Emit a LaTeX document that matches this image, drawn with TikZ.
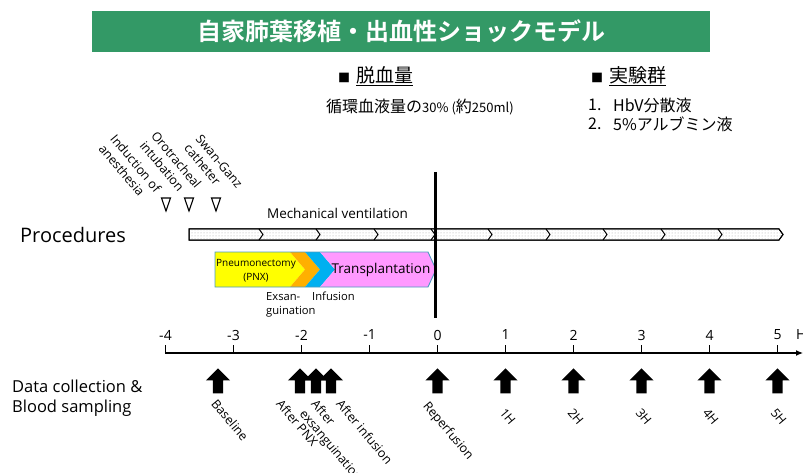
\documentclass[tikz,border=0pt]{standalone}
\usepackage{fontspec}
\setmainfont{Open Sans}
\newfontfamily\jp{Noto Sans CJK JP}[BoldFont={Noto Sans CJK JP Bold}]
\usetikzlibrary{patterns,arrows.meta,shapes.arrows}
\definecolor{titlegreen}{RGB}{51,153,102}
\definecolor{pyellow}{RGB}{255,255,0}
\definecolor{porange}{RGB}{255,176,0}
\definecolor{pcyan}{RGB}{0,176,240}
\definecolor{ppink}{RGB}{255,153,255}
\definecolor{pedge}{RGB}{75,155,190}
\begin{document}
\begin{tikzpicture}[x=1pt,y=-1pt,
  rotlab/.style={rotate=-50, anchor=north west, inner sep=0pt, align=left, font=\fontsize{12.5}{15}\selectfont},
  darrow/.style={single arrow, fill=black, draw=none, inner sep=5pt, minimum height=25pt, minimum width=24pt, single arrow head extend=7pt, shape border rotate=90, anchor=tip},
  tri/.style={draw=black, line width=1.1pt, fill=white, line join=miter},
  ticklab/.style={font=\fontsize{14}{14}\selectfont, inner sep=0pt},
  jptext/.style={font=\jp\fontsize{16}{16}\selectfont, inner sep=0pt, anchor=west},
  chev/.style={draw=black, line width=1pt},
]
\useasboundingbox (0,0) rectangle (803,473);

% title
\node[fill=titlegreen, minimum width=618pt, minimum height=41pt, inner sep=0pt,
      text=white, font=\jp\bfseries\fontsize{24}{24}\selectfont] (title) at (401,31.5) {自家肺葉移植・出血性ショックモデル};

% headings
\node[jptext, font=\jp\fontsize{19}{19}\selectfont] (h1) at (338,76) {{\fontsize{12}{12}\selectfont ■}\hspace{6pt}\underline{脱血量}};
\node[jptext, font=\jp\fontsize{19}{19}\selectfont] (h2) at (591,76) {{\fontsize{12}{12}\selectfont ■}\hspace{6pt}\underline{実験群}};
\node[jptext] (vol) at (326,107) {循環血液量の{\fontsize{13}{13}\selectfont 30\% (}約{\fontsize{13}{13}\selectfont 250ml)}};
\node[jptext] (n1) at (588,105) {1.};
\node[jptext] (g1) at (613,105) {HbV分散液};
\node[jptext] (n2) at (588,124) {2.};
\node[jptext] (g2) at (613,124) {5\%アルブミン液};

% procedure labels
\node[rotlab] (ind) at (117,133) {Induction of\\anesthesia};
\node[rotlab] (oro) at (158,130) {Orotracheal\\intubation};
\node[rotlab] (swan) at (202,133) {Swan-Ganz\\catheter};
\foreach \x in {166,189,216}
  \draw[tri] (\x-4.5,198) -- (\x+4.5,198) -- (\x,211) -- cycle;

\node[font=\fontsize{20}{20}\selectfont, anchor=west, inner sep=0pt] (proc) at (20,235) {Procedures};
\node[font=\fontsize{13.5}{14}\selectfont, inner sep=0pt] (mv) at (337.5,213) {Mechanical ventilation};

% ventilation bar
\draw[line width=1pt, fill=white] (189,229) -- (779,229) -- (783,234.5) -- (779,240) -- (189,240) -- cycle;
\fill[pattern=dots, pattern color=gray!70] (189.5,229.5) -- (779,229.5) -- (782.5,234.5) -- (779,239.5) -- (189.5,239.5) -- cycle;
\draw[line width=1pt] (189,229) -- (779,229) -- (783,234.5) -- (779,240) -- (189,240) -- cycle;
\foreach \x in {263,320,378,435,492,550,607,665,722}
  \draw[chev] (\x-4,229) -- (\x,234.5) -- (\x-4,240);

% process arrow
\fill[pyellow] (215,252) -- (290,252) -- (305,269.5) -- (290,287) -- (215,287) -- cycle;
\fill[porange] (290,252) -- (305,252) -- (320,269.5) -- (305,287) -- (290,287) -- (305,269.5) -- cycle;
\fill[pcyan] (305,252) -- (320,252) -- (335,269.5) -- (320,287) -- (305,287) -- (320,269.5) -- cycle;
\fill[ppink] (320,252) -- (428,252) -- (436,269.5) -- (428,287) -- (320,287) -- (335,269.5) -- cycle;
\draw[pedge, line width=0.9pt] (215,252) -- (428,252) -- (436,269.5) -- (428,287) -- (215,287) -- cycle;
\node[align=center, font=\fontsize{10}{14.5}\selectfont, inner sep=0pt] (pnx) at (256,270.5) {Pneumonectomy\\(PNX)};
\node[font=\fontsize{13.5}{13.5}\selectfont, inner sep=0pt] (tx) at (381,269.5) {Transplantation};
\node[anchor=north west, align=left, font=\fontsize{11.2}{14}\selectfont, inner sep=0pt] (exs) at (266,292) {Exsan-\\guination};
\node[anchor=north west, font=\fontsize{11.2}{14}\selectfont, inner sep=0pt] (inf) at (312,292) {Infusion};

% reperfusion line
\draw[line width=3pt] (435.5,172) -- (435.5,318);

% time axis
\draw[line width=1.2pt, -{Latex[length=7pt,width=6pt]}] (164.9,353) -- (803,353);
\foreach \t [count=\i] in {-4,-3,-2,-1,0,1,2,3,4,5} {
  \draw[line width=1.2pt] ({437.5+68*\t},345) -- ({437.5+68*\t},353.6);
  \node[ticklab] (t\i) at ({437.5+68*\t},335) {\t};
}
\node[ticklab, anchor=west] (hlab) at (796,335) {H};

% data collection
\node[anchor=west, align=left, font=\fontsize{16.5}{20}\selectfont, inner sep=0pt] (data) at (12,398) {Data collection \&\\Blood sampling};
\foreach \x [count=\i] in {218,300,316,331,437.5,505.5,573.5,641.5,709.5,777.5}
  \node[darrow] (a\i) at (\x,368) {};

\node[rotlab] (l1) at (218,398) {Baseline};
\node[rotlab] (l2) at (283,398) {After PNX};
\node[rotlab] (l3) at (318,398) {After\\exsanguination};
\node[rotlab] (l4) at (343,398) {After infusion};
\node[rotlab] (l5) at (430,400) {Reperfusion};
\node[rotlab] (l6) at (506,407) {1H};
\node[rotlab] (l7) at (574,407) {2H};
\node[rotlab] (l8) at (642,407) {3H};
\node[rotlab] (l9) at (709,407) {4H};
\node[rotlab] (l10) at (777,407) {5H};
\end{tikzpicture}
\end{document}
